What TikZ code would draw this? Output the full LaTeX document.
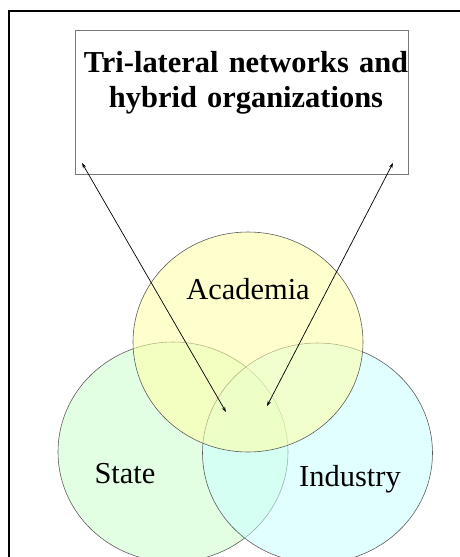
\documentclass[tikz,border=0pt]{standalone}
\usepackage{fontspec}
\setmainfont{Liberation Serif}
\usepackage{xcolor}
\usepackage{tikz}
\usetikzlibrary{shapes.geometric, arrows.meta, positioning}
\definecolor{statefill}{RGB}{204,255,204}
\definecolor{industryfill}{RGB}{200,255,255}
\definecolor{academiafill}{RGB}{255,255,165}
\definecolor{outline}{RGB}{90,90,90}
\definecolor{boxline}{RGB}{120,120,120}
\tikzset{
    sphere/.style={ellipse, minimum width=6.9cm, minimum height=6.6cm, draw=outline, line width=0.5pt, fill opacity=0.55, text opacity=1},
    sector/.style={font=\fontsize{26}{30}\selectfont, anchor=base, inner sep=0pt},
    twoway/.style={{Stealth[length=4.5pt,width=3pt]}-{Stealth[length=4.5pt,width=3pt]}, line width=0.6pt}
}
\begin{document}
\begin{tikzpicture} [
    node distance=1.5cm,
    titlebox/.style={rectangle, minimum width=9.99cm, minimum height=4.32cm, draw=boxline, line width=0.6pt, fill=white},
    titletext/.style={text width=9.9cm, align=center, font=\fontsize{26}{30}\selectfont\bfseries, inner sep=0pt}
]
    \useasboundingbox (0,0) rectangle (13.8,-16.71);
    % Outer frame (runs off the page right and bottom)
    \draw[line width=2.3pt] (0.27,-17.5) -- (0.27,-0.33) -- (14.5,-0.33);

    % Title box
    \node[titlebox] (title_box) at (7.245,-3.06) {};
    \node[titletext, anchor=north] (title_text) at (7.38,-1.53) {Tri-lateral networks and\\ hybrid organizations};

    % Helix spheres
    \node[sphere, fill=statefill] (state) at (5.19,-13.56) {};
    \node[sphere, fill=industryfill] (industry) at (9.525,-13.59) {};
    \node[sphere, fill=academiafill] (academia) at (7.44,-10.26) {};

    % Sphere labels
    \node[sector] (academia_label) at (7.44,-8.97) {Academia};
    \node[sector] (state_label) at (3.75,-14.49) {State};
    \node[sector] (industry_label) at (10.5,-14.58) {Industry};

    % Arrow ends
    \coordinate (left_top) at (2.46,-4.89);
    \coordinate (left_bottom) at (6.78,-12.36);
    \coordinate (right_top) at (11.79,-4.89);
    \coordinate (right_bottom) at (8.01,-12.18);

    % Links between overlap and title
    \draw[twoway] (left_top) -- (left_bottom);
    \draw[twoway] (right_top) -- (right_bottom);
\end{tikzpicture}
\end{document}
